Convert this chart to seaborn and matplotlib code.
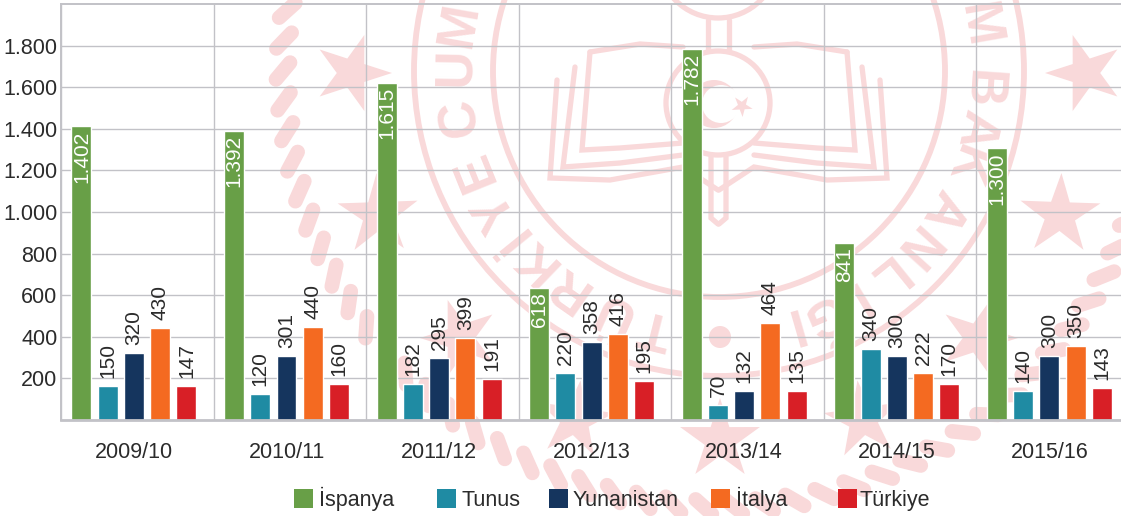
import numpy as np
import pandas as pd
import seaborn as sns
import matplotlib.pyplot as plt
from matplotlib.patches import Circle, Polygon, Rectangle

# Veriler
yillar = ['2009/10', '2010/11', '2011/12', '2012/13', '2013/14', '2014/15', '2015/16']
ulkeler = ['İspanya', 'Tunus', 'Yunanistan', 'İtalya', 'Türkiye']
renkler = ['#689f47', '#1f8ba3', '#15355e', '#f46a21', '#d81f26']

# Sutun yukseklikleri (etiketlerle birebir ayni degil)
ispanya = [1413, 1389, 1620, 635, 1784, 851, 1308]
tunus = [163, 125, 173, 226, 72, 341, 139]
yunanistan = [322, 308, 298, 375, 139, 308, 308]
italya = [442, 447, 394, 413, 466, 226, 356]
turkiye = [163, 173, 197, 188, 139, 173, 154]

# Sutun etiketleri
etiket_ispanya = ['1.402', '1.392', '1.615', '618', '1.782', '841', '1.300']
etiket_tunus = ['150', '120', '182', '220', '70', '340', '140']
etiket_yunanistan = ['320', '301', '295', '358', '132', '300', '300']
etiket_italya = ['430', '440', '399', '416', '464', '222', '350']
etiket_turkiye = ['147', '160', '191', '195', '135', '170', '143']

y_ticks = [200, 400, 600, 800, 1000, 1200, 1400, 1600, 1800]
y_labels = ['200', '400', '600', '800', '1.000', '1.200', '1.400', '1.600', '1.800']

# Filigran yazisi: harf ve alttan saat yonunde aci
muhur_harfleri = ['T', 'Ü', 'R', 'K', 'İ', 'Y', 'E', 'C', 'U', 'M',
                  'M', 'B', 'A', 'K', 'A', 'N', 'L', 'I', 'Ğ', 'I']
muhur_acilari = [14, 24, 35, 44, 51, 58, 68, 80, 91, 100,
                 -100, -86, -77, -69, -58, -48, -39, -31, -23, -16]

sns.set_theme(style='white')
plt.rcParams['font.family'] = ['Liberation Sans', 'DejaVu Sans']
yazi = '#2b2b2b'
soluk = '#f9d9da'
izgara = '#c2c2c7'

fig = plt.figure(figsize=(11.21, 5.16), dpi=100)

# Arka plan: piksel koordinatli eksen (filigran ve lejant)
bg = fig.add_axes([0, 0, 1, 1], zorder=0)
bg.set_xlim(0, 1121)
bg.set_ylim(516, 0)
bg.axis('off')

cx, cy = 719, 71


def cizgi(xs, ys, lw=3.8):
    bg.plot(xs, ys, color=soluk, lw=lw, solid_capstyle='round', solid_joinstyle='miter')
    bg.plot([2 * 718.5 - x for x in xs], ys, color=soluk, lw=lw,
            solid_capstyle='round', solid_joinstyle='miter')


def yildiz(x, y, r, aci):
    t = np.radians(aci + np.arange(10) * 36)
    rr = np.where(np.arange(10) % 2 == 0, r, r * 0.38)
    bg.add_patch(Polygon(np.c_[x + rr * np.cos(t), y + rr * np.sin(t)], color=soluk, lw=0))


# Halkalar
for r in [226, 305]:
    bg.add_patch(Circle((cx, cy), r, fill=False, ec=soluk, lw=4.2))

# Halat
for phi in np.arange(20, 198, 4.0):
    p = np.radians(phi)
    mx, my = cx + 436 * np.cos(p), cy + 436 * np.sin(p)
    d = np.radians(phi + 90 + 40)
    bg.plot([mx - 11 * np.cos(d), mx + 11 * np.cos(d)], [my - 11 * np.sin(d), my + 11 * np.sin(d)],
            color=soluk, lw=10.5, solid_capstyle='round')

# Yildizlar
yildiz(352, 73, 40, 0)
yildiz(1085, 73, 40, 180)
yildiz(378, 215, 42, -92)
yildiz(1060, 215, 42, -88)
yildiz(460, 338, 40, 180)
yildiz(978, 338, 40, 0)
yildiz(575, 420, 40, -10)
yildiz(720, 440, 42, -90)
yildiz(863, 420, 40, -170)

# Muhur yazisi
for harf, aci in zip(muhur_harfleri, muhur_acilari):
    p = np.radians(aci + 90)
    bg.text(cx + 263 * np.cos(p), cy + 263 * np.sin(p), harf, fontsize=38, color=soluk,
            fontweight='bold', rotation=180 - aci, rotation_mode='anchor', ha='center', va='center')
bg.add_patch(Circle((720, 337), 11, color=soluk, lw=0))

# Kitap
cizgi([590, 582, 620, 683], [52, 150, 148, 143])
cizgi([575, 563, 620, 683], [67, 167, 163, 155])
cizgi([557, 550, 610, 683, 718], [80, 178, 180, 167, 190])
cizgi([590, 640, 683], [52, 44, 47])

# Lamba ve ay yildiz
bg.add_patch(Circle((718, 103), 52, fill=False, ec=soluk, lw=3.8))
bg.add_patch(Circle((718, -42), 60, fill=False, ec=soluk, lw=3.8))
cizgi([708, 708], [20, 50])
cizgi([711, 711, 718], [157, 218, 224])
bg.add_patch(Circle((714, 104), 24, color=soluk, lw=0))
bg.add_patch(Circle((721, 104), 19, color='white', lw=0))
yildiz(742, 106, 11, 15)

# Lejant
lejant_kutu = [294, 437, 549, 711, 838]
lejant_yazi = [319, 462, 573, 736, 859]
for ad, renk, kx, yx in zip(ulkeler, renkler, lejant_kutu, lejant_yazi):
    bg.add_patch(Rectangle((kx, 489), 19, 19, color=renk, lw=0, zorder=5))
    bg.text(yx, 506, ad, fontsize=15.5, color=yazi, va='baseline', ha='left', zorder=5)

# Grafik
degerler = [ispanya, tunus, yunanistan, italya, turkiye]
etiketler = [etiket_ispanya, etiket_tunus, etiket_yunanistan, etiket_italya, etiket_turkiye]
df = pd.DataFrame({
    'Yil': yillar * len(ulkeler),
    'Ulke': [u for u in ulkeler for _ in yillar],
    'Deger': sum(degerler, []),
})

ax = fig.add_axes([61 / 1121, 96 / 516, 1068 / 1121, 416 / 516], zorder=1)
ax.patch.set_visible(False)
sns.barplot(data=df, x='Yil', y='Deger', hue='Ulke', order=yillar, hue_order=ulkeler,
            palette=renkler, width=0.86, gap=0.24, saturation=1, legend=False, ax=ax)

sol = -0.478
ax.set_xlim(sol, sol + 7)
ax.set_ylim(0, 2000)
ax.set_xticks(range(7))
ax.set_xticklabels(yillar)
ax.set_xticks(np.arange(8) + sol, minor=True)
ax.set_yticks(y_ticks)
ax.set_yticklabels(y_labels)
ax.set_xlabel('')
ax.set_ylabel('')
ax.set_axisbelow(True)
ax.grid(which='minor', axis='x', color=izgara, lw=1.0)
ax.grid(which='major', axis='y', color=izgara, lw=1.0)
ax.grid(which='major', axis='x', visible=False)
ax.tick_params(which='both', length=0)
ax.tick_params(axis='x', which='major', pad=15.5, labelsize=15.5, labelcolor=yazi)
ax.tick_params(axis='y', pad=2.5, labelsize=15.5, labelcolor=yazi)
for k in ['left', 'top', 'right']:
    ax.spines[k].set_color(izgara)
    ax.spines[k].set_linewidth(1.4)
ax.spines['bottom'].set_color(izgara)
ax.spines['bottom'].set_linewidth(2)

# Sutun etiketleri
for i, kap in enumerate(ax.containers):
    for bar, lbl in zip(kap, etiketler[i]):
        x = bar.get_x() + bar.get_width() / 2
        if i == 0:
            ax.annotate(lbl, (x, bar.get_height()), xytext=(0, -3), textcoords='offset points',
                        rotation=90, ha='center', va='top', color='white', fontsize=15)
        else:
            ax.annotate(lbl, (x, bar.get_height()), xytext=(0, 5.5), textcoords='offset points',
                        rotation=90, ha='center', va='bottom', color=yazi, fontsize=15)

plt.savefig('out.png', dpi=100)
